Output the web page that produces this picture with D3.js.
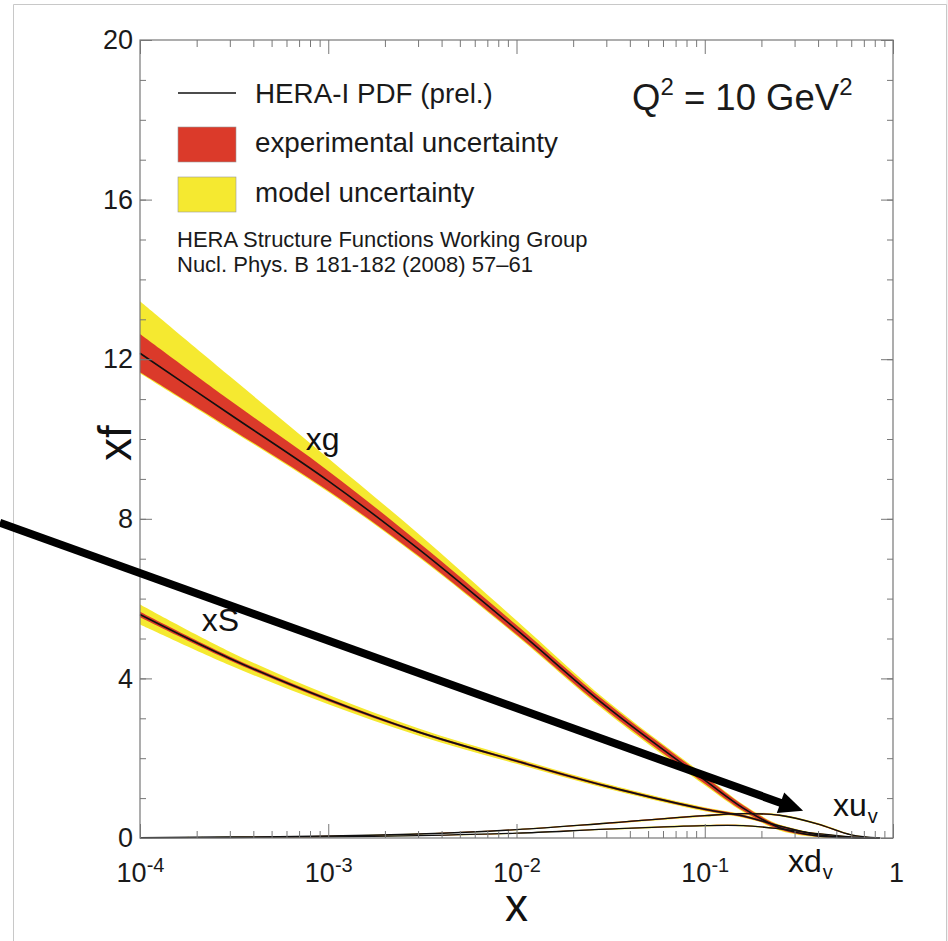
<!DOCTYPE html>
<html>
<head>
<meta charset="utf-8">
<script src="https://cdn.jsdelivr.net/npm/d3@7"></script>
<style>
  html, body { margin: 0; padding: 0; background: #fff; }
  svg { display: block; font-family: "Liberation Sans", Arial, Helvetica, sans-serif; }
</style>
</head>
<body>
<div id="chart"></div>
<script>
// x grid shared by all PDFs (Q^2 = 10 GeV^2)
const xGrid = [1e-4, 3e-4, 1e-3, 3e-3, 1e-2, 3e-2, 0.1, 0.16, 0.25, 0.4, 0.6, 0.85];

const xgCentral = [12.15, 10.62, 8.95, 7.25, 5.22, 3.30, 1.45, 0.75, 0.26, 0.05, 0.005, 0];
const xgExpLo   = [11.67, 10.27, 8.70, 7.08, 5.10, 3.20, 1.36, 0.68, 0.21, 0.03, 0, 0];
const xgExpHi   = [12.63, 10.97, 9.20, 7.42, 5.34, 3.40, 1.54, 0.82, 0.31, 0.07, 0.01, 0];
const xgModLo   = [11.65, 10.24, 8.67, 7.05, 5.07, 3.16, 1.32, 0.65, 0.19, 0.02, 0, 0];
const xgModHi   = [13.45, 11.57, 9.52, 7.63, 5.45, 3.45, 1.57, 0.84, 0.33, 0.08, 0.015, 0];

const xsCentral = [5.60, 4.50, 3.47, 2.66, 1.93, 1.30, 0.72, 0.55, 0.30, 0.08, 0.01, 0];
const xsExpLo   = [5.53, 4.45, 3.43, 2.63, 1.90, 1.27, 0.69, 0.52, 0.28, 0.07, 0, 0];
const xsExpHi   = [5.67, 4.55, 3.51, 2.69, 1.96, 1.33, 0.75, 0.58, 0.32, 0.09, 0.02, 0];
const xsModLo   = [5.35, 4.33, 3.35, 2.57, 1.86, 1.24, 0.67, 0.51, 0.27, 0.06, 0, 0];
const xsModHi   = [5.85, 4.67, 3.59, 2.75, 2.00, 1.36, 0.77, 0.59, 0.33, 0.10, 0.02, 0];

const xuvCentral = [0.010, 0.025, 0.050, 0.100, 0.210, 0.370, 0.560, 0.610, 0.570, 0.350, 0.080, 0];
const xuvExpLo   = [0.008, 0.022, 0.046, 0.095, 0.200, 0.355, 0.545, 0.595, 0.555, 0.335, 0.070, 0];
const xuvExpHi   = [0.012, 0.028, 0.054, 0.105, 0.220, 0.385, 0.575, 0.625, 0.585, 0.365, 0.090, 0];
const xuvModLo   = [0.006, 0.020, 0.043, 0.090, 0.195, 0.350, 0.535, 0.585, 0.545, 0.325, 0.065, 0];
const xuvModHi   = [0.014, 0.030, 0.057, 0.110, 0.225, 0.390, 0.585, 0.635, 0.595, 0.375, 0.095, 0];

const xdvCentral = [0.005, 0.012, 0.030, 0.060, 0.120, 0.220, 0.310, 0.310, 0.230, 0.110, 0.030, 0];
const xdvExpLo   = [0.004, 0.010, 0.027, 0.056, 0.113, 0.210, 0.298, 0.298, 0.220, 0.100, 0.025, 0];
const xdvExpHi   = [0.006, 0.014, 0.033, 0.064, 0.127, 0.230, 0.322, 0.322, 0.240, 0.120, 0.035, 0];
const xdvModLo   = [0.003, 0.009, 0.025, 0.053, 0.108, 0.205, 0.290, 0.290, 0.213, 0.095, 0.022, 0];
const xdvModHi   = [0.007, 0.015, 0.035, 0.067, 0.132, 0.235, 0.330, 0.330, 0.247, 0.125, 0.038, 0];

const xDecades   = [1e-4, 1e-3, 1e-2, 1e-1, 1];
const yMajor     = [0, 4, 8, 12, 16, 20];
const yMinor     = d3.range(0, 21, 1);

// curve labels in data coords [x, y]
const curveLabels = [
  { text: 'xg', sub: '',  at: [7.6e-4, 9.72] },
  { text: 'xS', sub: '',  at: [2.13e-4, 5.19] },
  { text: 'xu', sub: 'v', at: [0.48, 0.55] },
  { text: 'xd', sub: 'v', at: [0.277, -0.85] }
];

// annotation arrow in data coords
const arrowFrom = [1.8e-5, 7.9];
const arrowTo   = [0.333, 0.68];

const C_EXP   = '#db3a2a';
const C_MODEL = '#f5e930';
const C_AXIS  = '#777';

const W = 948, H = 941;
const MARGIN = { top: 40, right: 55, bottom: 103, left: 140 };
const w = W - MARGIN.left - MARGIN.right;
const h = H - MARGIN.top - MARGIN.bottom;

const svg = d3.select('#chart').append('svg').attr('width', W).attr('height', H);

// screenshot frame
svg.append('rect').attr('x', 946).attr('y', 0).attr('width', 2).attr('height', H).attr('fill', '#f4f4f4');
svg.append('path').attr('d', `M13.5,${H} V4.5 H946.5 V${H}`).attr('fill', 'none').attr('stroke', '#c8c8c8');

const g = svg.append('g').attr('transform', `translate(${MARGIN.left},${MARGIN.top})`);

const x = d3.scaleLog().domain([1e-4, 1]).range([0, w]);
const y = d3.scaleLinear().domain([0, 20]).range([h, 0]);

const series = [
  { c: xsCentral,  el: xsExpLo,  eh: xsExpHi,  ml: xsModLo,  mh: xsModHi,  lw: 1.6 },
  { c: xuvCentral, el: xuvExpLo, eh: xuvExpHi, ml: xuvModLo, mh: xuvModHi, lw: 1.3 },
  { c: xdvCentral, el: xdvExpLo, eh: xdvExpHi, ml: xdvModLo, mh: xdvModHi, lw: 1.3 },
  { c: xgCentral,  el: xgExpLo,  eh: xgExpHi,  ml: xgModLo,  mh: xgModHi,  lw: 1.6 }
];

const curve = d3.curveCatmullRom.alpha(0.5);

const band = (lo, hi) => d3.area()
  .x((_, i) => x(xGrid[i]))
  .y0((_, i) => y(lo[i]))
  .y1((_, i) => y(hi[i]))
  .curve(curve)(xGrid);

const line = vals => d3.line()
  .x((_, i) => x(xGrid[i]))
  .y((_, i) => y(vals[i]))
  .curve(curve)(xGrid);

series.forEach(s => g.append('path').attr('d', band(s.ml, s.mh)).attr('fill', C_MODEL));
series.forEach(s => g.append('path').attr('d', band(s.el, s.eh)).attr('fill', C_EXP));
series.forEach(s => g.append('path').attr('d', line(s.c))
  .attr('fill', 'none').attr('stroke', '#111').attr('stroke-width', s.lw));

// axes
const xMinor = [];
xDecades.slice(0, -1).forEach(d => { for (let k = 2; k <= 9; k++) xMinor.push(d * k); });

function styleAxis(sel) {
  sel.select('.domain').remove();
  sel.selectAll('.tick line').attr('stroke', C_AXIS).attr('stroke-width', 1);
  sel.selectAll('.tick text').attr('fill', '#1a1a1a').style('font-size', '27px')
    .style('font-family', '"Liberation Sans", Arial, sans-serif');
}

g.append('g').attr('transform', `translate(0,${h})`)
  .call(d3.axisBottom(x).tickValues(xMinor).tickSize(-7).tickFormat('')).call(styleAxis);
g.append('g').call(d3.axisTop(x).tickValues(xMinor).tickSize(-7).tickFormat('')).call(styleAxis);
g.append('g').call(d3.axisTop(x).tickValues(xDecades).tickSize(-14).tickFormat('')).call(styleAxis);

const xAx = g.append('g').attr('transform', `translate(0,${h})`)
  .call(d3.axisBottom(x).tickValues(xDecades).tickSize(-14)).call(styleAxis);
xAx.selectAll('.tick text').each(function (d) {
  const t = d3.select(this).text('').attr('y', 44).attr('dy', null);
  if (d === 1) { t.text('1').attr('dx', 3); return; }
  t.append('tspan').text('10');
  t.append('tspan').text(String(Math.round(Math.log10(d)))).style('font-size', '20px').attr('dy', -10);
});

g.append('g').call(d3.axisLeft(y).tickValues(yMinor).tickSize(-6).tickFormat('')).call(styleAxis);
g.append('g').call(d3.axisLeft(y).tickValues(yMajor).tickSize(-12).tickPadding(7)).call(styleAxis);
g.append('g').attr('transform', `translate(${w},0)`)
  .call(d3.axisRight(y).tickValues(yMinor).tickSize(-6).tickFormat('')).call(styleAxis);
g.append('g').attr('transform', `translate(${w},0)`)
  .call(d3.axisRight(y).tickValues(yMajor).tickSize(-12).tickFormat('')).call(styleAxis);

g.append('rect').attr('width', w).attr('height', h)
  .attr('fill', 'none').attr('stroke', C_AXIS).attr('stroke-width', 1.2);

// axis titles
g.append('text').attr('x', x(0.01)).attr('y', h + 83).attr('text-anchor', 'middle')
  .style('font-size', '46px').attr('fill', '#111').text('x');
g.append('text').attr('transform', `translate(-9,${y(10) + 4}) rotate(-90)`).attr('text-anchor', 'middle')
  .style('font-size', '46px').attr('fill', '#111').text('xf');

// curve labels
curveLabels.forEach(l => {
  const t = g.append('text').attr('x', x(l.at[0])).attr('y', y(l.at[1]))
    .style('font-size', '32px').attr('fill', '#111').text(l.text);
  if (l.sub) t.append('tspan').text(l.sub).style('font-size', '20px').attr('dy', 7).attr('dx', 1);
});

// arrow
const ax0 = x(arrowFrom[0]), ay0 = y(arrowFrom[1]);
const ax1 = x(arrowTo[0]),   ay1 = y(arrowTo[1]);
const ang = Math.atan2(ay1 - ay0, ax1 - ax0);
const headL = 24, headW = 11;
const bx = ax1 - headL * Math.cos(ang), by = ay1 - headL * Math.sin(ang);
g.append('line').attr('x1', ax0).attr('y1', ay0).attr('x2', bx + 2 * Math.cos(ang)).attr('y2', by + 2 * Math.sin(ang))
  .attr('stroke', '#000').attr('stroke-width', 8);
g.append('path').attr('fill', '#000').attr('d',
  `M${ax1},${ay1} L${bx - headW * Math.sin(ang)},${by + headW * Math.cos(ang)} ` +
  `L${bx + headW * Math.sin(ang)},${by - headW * Math.cos(ang)} Z`);

// legend
const lg = g.append('g').attr('transform', 'translate(38,53)');
lg.append('line').attr('x1', 0).attr('x2', 58).attr('y1', 0).attr('y2', 0).attr('stroke', '#111').attr('stroke-width', 1.6);
lg.append('rect').attr('x', 0).attr('y', 34).attr('width', 58).attr('height', 35)
  .attr('fill', C_EXP).attr('stroke', '#999').attr('stroke-width', 0.6);
lg.append('rect').attr('x', 0).attr('y', 84).attr('width', 58).attr('height', 35)
  .attr('fill', C_MODEL).attr('stroke', '#999').attr('stroke-width', 0.6);
[['HERA-I PDF (prel.)', 10], ['experimental uncertainty', 59], ['model uncertainty', 109]].forEach(([txt, yy]) => {
  lg.append('text').attr('x', 77).attr('y', yy).style('font-size', '27.8px').attr('fill', '#1a1a1a').text(txt);
});
lg.append('text').attr('x', -1).attr('y', 154).style('font-size', '22px').attr('fill', '#1a1a1a')
  .text('HERA Structure Functions Working Group');
lg.append('text').attr('x', -1).attr('y', 179).style('font-size', '22px').attr('fill', '#1a1a1a')
  .text('Nucl. Phys. B 181-182 (2008) 57–61');

// Q^2 label
const q = g.append('text').attr('x', 492).attr('y', 70).style('font-size', '36.5px').attr('fill', '#1a1a1a');
q.append('tspan').text('Q');
q.append('tspan').text('2').style('font-size', '24px').attr('dy', -15);
q.append('tspan').text(' = 10 GeV').attr('dy', 15);
q.append('tspan').text('2').style('font-size', '24px').attr('dy', -15);
</script>
</body>
</html>
